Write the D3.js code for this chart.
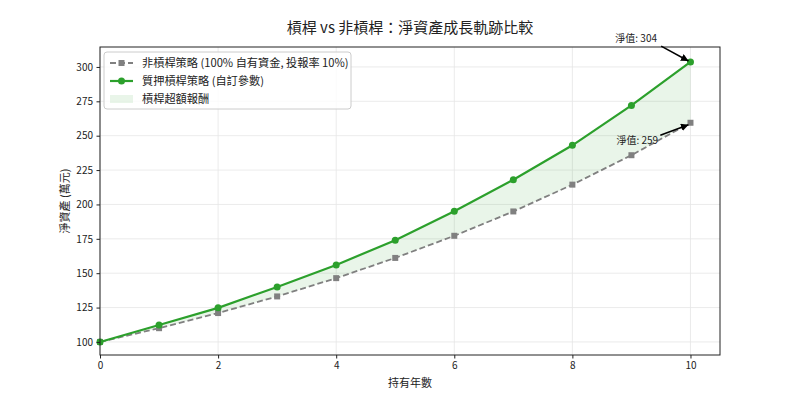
<!DOCTYPE html>
<html>
<head>
<meta charset="utf-8">
<script src="https://d3js.org/d3.v7.min.js"></script>
<style>
  body { margin: 0; background: #fff; }
  svg { font-family: "Noto Sans CJK TC", "Noto Sans", sans-serif; }
</style>
</head>
<body>
<svg></svg>
<script>
    // data
    const years = [0, 1, 2, 3, 4, 5, 6, 7, 8, 9, 10];
    const noLeverage = [100, 110, 121, 133.1, 146.4, 161.1, 177.2, 194.9, 214.4, 235.8, 259.4];
    const leverage = [100, 112.3, 124.8, 140, 156, 174, 195, 218, 243, 272, 303.6];
    const xTicks = [0, 2, 4, 6, 8, 10];
    const yTicks = [100, 125, 150, 175, 200, 225, 250, 275, 300];

    const margin = {top: 47, right: 80, bottom: 45, left: 100};
    const width = 800 - margin.left - margin.right;
    const height = 400 - margin.top - margin.bottom;

    const root = d3.select("svg")
        .attr("width", 800)
        .attr("height", 400);

    const svg = root.append("g")
        .attr("transform", `translate(${margin.left}, ${margin.top})`);

    const x = d3.scaleLinear().domain([0, 10.5]).range([0, width]);
    const y = d3.scaleLinear().domain([90.5, 314.5]).range([height, 0]);

    // grid
    svg.append("g").selectAll("line")
        .data(xTicks)
        .join("line")
        .attr("x1", d => x(d)).attr("x2", d => x(d))
        .attr("y1", 0).attr("y2", height)
        .attr("stroke", "#e6e6e6").attr("stroke-width", 0.8);
    svg.append("g").selectAll("line")
        .data(yTicks)
        .join("line")
        .attr("x1", 0).attr("x2", width)
        .attr("y1", d => y(d)).attr("y2", d => y(d))
        .attr("stroke", "#e6e6e6").attr("stroke-width", 0.8);

    const rows = years.map((yr, i) => ({yr, a: noLeverage[i], b: leverage[i]}));

    // excess return area
    svg.append("path")
        .datum(rows)
        .attr("fill", "#2ca02c")
        .attr("fill-opacity", 0.1)
        .attr("d", d3.area().x(d => x(d.yr)).y0(d => y(d.a)).y1(d => y(d.b)));

    // no-leverage line
    svg.append("path")
        .datum(rows)
        .attr("fill", "none")
        .attr("stroke", "#808080")
        .attr("stroke-width", 1.8)
        .attr("stroke-dasharray", "6,3")
        .attr("d", d3.line().x(d => x(d.yr)).y(d => y(d.a)));
    svg.append("g").selectAll("rect")
        .data(rows)
        .join("rect")
        .attr("x", d => x(d.yr) - 3)
        .attr("y", d => y(d.a) - 3)
        .attr("width", 6).attr("height", 6)
        .attr("fill", "#808080");

    // leverage line
    svg.append("path")
        .datum(rows)
        .attr("fill", "none")
        .attr("stroke", "#2ca02c")
        .attr("stroke-width", 2.2)
        .attr("d", d3.line().x(d => x(d.yr)).y(d => y(d.b)));
    svg.append("g").selectAll("circle")
        .data(rows)
        .join("circle")
        .attr("cx", d => x(d.yr))
        .attr("cy", d => y(d.b))
        .attr("r", 3.5)
        .attr("fill", "#2ca02c");

    // axes
    const xAxis = svg.append("g")
        .attr("transform", `translate(0, ${height})`)
        .call(d3.axisBottom(x).tickValues(xTicks).tickSize(3.5).tickPadding(3.5));
    const yAxis = svg.append("g")
        .call(d3.axisLeft(y).tickValues(yTicks).tickSize(3.5).tickPadding(3.5));
    [xAxis, yAxis].forEach(a => {
        a.select(".domain").remove();
        a.selectAll("text").attr("font-size", 10).attr("fill", "#222")
            .attr("font-family", "'Noto Sans CJK TC', sans-serif");
        a.selectAll("line").attr("stroke", "#222");
    });

    svg.append("rect")
        .attr("width", width).attr("height", height)
        .attr("fill", "none").attr("stroke", "#222").attr("stroke-width", 1);

    // annotations
    const defs = root.append("defs");
    defs.append("marker")
        .attr("id", "arrow")
        .attr("viewBox", "0 0 10 10")
        .attr("refX", 10).attr("refY", 5)
        .attr("markerWidth", 5).attr("markerHeight", 5)
        .attr("orient", "auto")
        .append("path").attr("d", "M0,0 L10,5 L0,10 Z").attr("fill", "#000");

    const notes = [
        {tx: 9.08, ty: 318.1, px: 10, py: leverage[10], dx: 25, dy: 4, label: "淨值: " + Math.round(leverage[10])},
        {tx: 9.1, ty: 243.8, px: 10, py: noLeverage[10], dx: 23, dy: -9, label: "淨值: " + Math.round(noLeverage[10])}
    ];
    notes.forEach(n => {
        svg.append("text")
            .attr("x", x(n.tx)).attr("y", y(n.ty))
            .attr("text-anchor", "middle")
            .attr("font-size", 10).attr("fill", "#222")
            .text(n.label);
        const up = n.py > n.ty;
        svg.append("line")
            .attr("x1", x(n.tx) + n.dx).attr("y1", y(n.ty) + n.dy)
            .attr("x2", x(n.px) - 2).attr("y2", y(n.py) + (up ? 2 : -1))
            .attr("stroke", "#000").attr("stroke-width", 1.5)
            .attr("marker-end", "url(#arrow)");
    });

    // labels
    root.append("text")
        .attr("x", margin.left + width / 2).attr("y", 33)
        .attr("text-anchor", "middle")
        .attr("font-size", 15).attr("fill", "#222")
        .text("槓桿 vs 非槓桿：淨資產成長軌跡比較");
    root.append("text")
        .attr("x", margin.left + width / 2).attr("y", 387)
        .attr("text-anchor", "middle")
        .attr("font-size", 11).attr("fill", "#222")
        .text("持有年數");
    root.append("text")
        .attr("transform", `translate(69, ${margin.top + height / 2}) rotate(-90)`)
        .attr("text-anchor", "middle")
        .attr("font-size", 11).attr("fill", "#222")
        .text("淨資產 (萬元)");

    // legend
    const lg = svg.append("g").attr("transform", "translate(4, 5)");
    lg.append("rect")
        .attr("width", 247).attr("height", 57).attr("rx", 3)
        .attr("fill", "#fff").attr("fill-opacity", 0.8)
        .attr("stroke", "#ccc");
    const items = [
        {label: "非槓桿策略 (100% 自有資金, 投報率 10%)", kind: "dash"},
        {label: "質押槓桿策略 (自訂參數)", kind: "solid"},
        {label: "槓桿超額報酬", kind: "area"}
    ];
    items.forEach((it, i) => {
        const g = lg.append("g").attr("transform", `translate(6, ${11 + i * 18})`);
        if (it.kind === "dash") {
            g.append("line").attr("x1", 0).attr("x2", 23).attr("y1", 0).attr("y2", 0)
                .attr("stroke", "#808080").attr("stroke-width", 1.8).attr("stroke-dasharray", "6,3");
            g.append("rect").attr("x", 8.5).attr("y", -3).attr("width", 6).attr("height", 6).attr("fill", "#808080");
        } else if (it.kind === "solid") {
            g.append("line").attr("x1", 0).attr("x2", 23).attr("y1", 0).attr("y2", 0)
                .attr("stroke", "#2ca02c").attr("stroke-width", 2.2);
            g.append("circle").attr("cx", 11.5).attr("cy", 0).attr("r", 3.5).attr("fill", "#2ca02c");
        } else {
            g.append("rect").attr("x", 0).attr("y", -4).attr("width", 23).attr("height", 8)
                .attr("fill", "#2ca02c").attr("fill-opacity", 0.1);
        }
        g.append("text").attr("x", 32).attr("y", 4)
            .attr("font-size", 11.2).attr("fill", "#222")
            .text(it.label);
    });
</script>
</body>
</html>
